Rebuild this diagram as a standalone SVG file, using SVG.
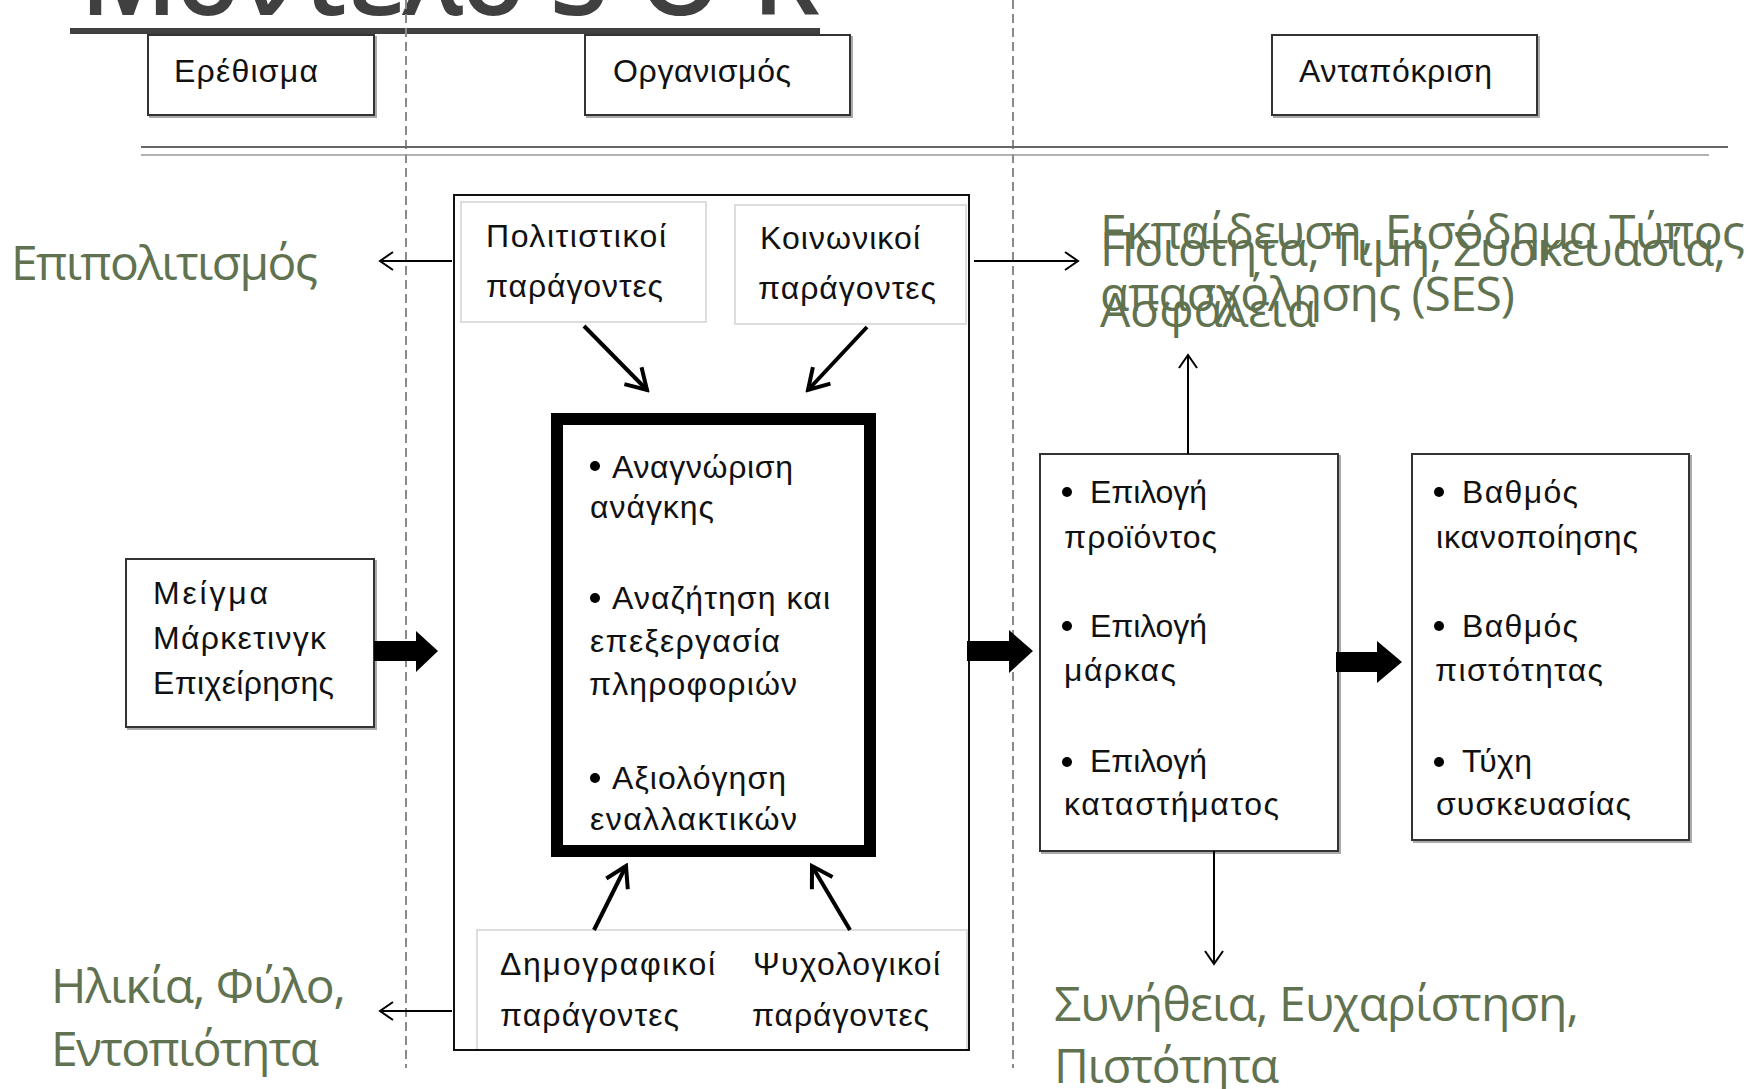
<svg xmlns="http://www.w3.org/2000/svg" width="1763" height="1089" viewBox="0 0 1763 1089">
<defs>
<style>
.t{font-family:"Liberation Sans",Arial,sans-serif;font-size:32px;fill:#111}
.g{font-family:"Open Sans","Noto Sans",sans-serif;font-size:48px;fill:#617250}
.box{fill:#fff;stroke:#333;stroke-width:2}
.shadow{fill:none;stroke:#aaa;stroke-width:2}
.lbox{fill:#fff;stroke:#ddd;stroke-width:2}
.dash{stroke:#8a8a8a;stroke-width:2;stroke-dasharray:9 5;fill:none}
.thin{stroke:#000;stroke-width:2;fill:none}
.thick{stroke:#000;stroke-width:4;fill:none}
</style>
<marker id="mo" markerUnits="userSpaceOnUse" markerWidth="16" markerHeight="20" viewBox="0 0 16 20" refX="14" refY="10" orient="auto">
<path d="M1,1 L14,10 L1,19" fill="none" stroke="#000" stroke-width="2"/>
</marker>
<marker id="mt" markerUnits="userSpaceOnUse" markerWidth="26" markerHeight="30" viewBox="0 0 26 30" refX="23" refY="15" orient="auto">
<path d="M3,3 L23,15 L3,27" fill="none" stroke="#000" stroke-width="4" stroke-linejoin="miter"/>
</marker>
</defs>
<rect width="1763" height="1089" fill="#fff"/>

<g id="title">
<text x="80" y="15" font-family="'Open Sans','Noto Sans',sans-serif" font-weight="600" font-size="106" fill="#404040" textLength="740">Μοντέλο S-O-R</text>
<rect x="70" y="28" width="750" height="6" fill="#404040"/>
</g>

<g id="guides">
<line class="dash" x1="406" y1="0" x2="406" y2="1068"/>
<line class="dash" x1="1013" y1="0" x2="1013" y2="1068"/>
<line x1="141" y1="147" x2="1728" y2="147" stroke="#666" stroke-width="2"/>
<line x1="141" y1="155" x2="1709" y2="155" stroke="#999" stroke-width="1.5"/>
</g>

<g id="hdr-stimulus">
<rect class="shadow" x="150" y="37" width="226" height="80"/>
<rect class="box" x="148" y="35" width="226" height="80"/>
<text class="t" x="174" y="82" textLength="144">Ερέθισμα</text>
</g>
<g id="hdr-organism">
<rect class="shadow" x="587" y="37" width="265" height="80"/>
<rect class="box" x="585" y="35" width="265" height="80"/>
<text class="t" x="613" y="82" textLength="178">Οργανισμός</text>
</g>
<g id="hdr-response">
<rect class="shadow" x="1274" y="37" width="265" height="80"/>
<rect class="box" x="1272" y="35" width="265" height="80"/>
<text class="t" x="1299" y="82" textLength="193">Ανταπόκριση</text>
</g>

<g id="organism">
<rect x="454" y="195" width="515" height="855" fill="#fff" stroke="#111" stroke-width="2"/>
</g>

<g id="cultural">
<rect class="lbox" x="461" y="202" width="245" height="120"/>
<text class="t" x="486" y="247" textLength="180">Πολιτιστικοί</text>
<text class="t" x="486" y="297" textLength="177">παράγοντες</text>
</g>
<g id="social">
<rect class="lbox" x="735" y="205" width="231" height="119"/>
<text class="t" x="760" y="249" textLength="160">Κοινωνικοί</text>
<text class="t" x="758" y="299" textLength="178">παράγοντες</text>
</g>

<g id="process">
<rect x="557" y="419" width="313" height="432" fill="#fff" stroke="#000" stroke-width="12"/>
<circle cx="595" cy="466" r="5" fill="#000"/>
<text class="t" x="612" y="478" textLength="181">Αναγνώριση</text>
<text class="t" x="590" y="518" textLength="124">ανάγκης</text>
<circle cx="595" cy="598" r="5" fill="#000"/>
<text class="t" x="612" y="609" textLength="218">Αναζήτηση και</text>
<text class="t" x="590" y="652" textLength="190">επεξεργασία</text>
<text class="t" x="589" y="695" textLength="208">πληροφοριών</text>
<circle cx="595" cy="778" r="5" fill="#000"/>
<text class="t" x="612" y="789" textLength="174">Αξιολόγηση</text>
<text class="t" x="590" y="830" textLength="207">εναλλακτικών</text>
</g>

<g id="demo-psycho">
<rect class="lbox" x="477" y="930" width="490" height="120"/>
<rect x="454" y="195" width="515" height="855" fill="none" stroke="#111" stroke-width="2"/>
<text class="t" x="500" y="975" textLength="215">Δημογραφικοί</text>
<text class="t" x="500" y="1026" textLength="179">παράγοντες</text>
<text class="t" x="753" y="975" textLength="187">Ψυχολογικοί</text>
<text class="t" x="752" y="1026" textLength="177">παράγοντες</text>
</g>

<g id="marketing-mix">
<rect class="shadow" x="128" y="561" width="248" height="168"/>
<rect class="box" x="126" y="559" width="248" height="168"/>
<text class="t" x="153" y="604" textLength="115">Μείγμα</text>
<text class="t" x="153" y="649" textLength="173">Μάρκετινγκ</text>
<text class="t" x="153" y="694" textLength="181">Επιχείρησης</text>
</g>

<g id="choices">
<rect class="shadow" x="1042" y="456" width="298" height="397"/>
<rect class="box" x="1040" y="454" width="298" height="397"/>
<circle cx="1067" cy="492" r="5" fill="#000"/>
<text class="t" x="1090" y="503" textLength="117">Επιλογή</text>
<text class="t" x="1064" y="548" textLength="153">προϊόντος</text>
<circle cx="1067" cy="626" r="5" fill="#000"/>
<text class="t" x="1090" y="637" textLength="117">Επιλογή</text>
<text class="t" x="1064" y="681" textLength="112">μάρκας</text>
<circle cx="1067" cy="762" r="5" fill="#000"/>
<text class="t" x="1090" y="772" textLength="117">Επιλογή</text>
<text class="t" x="1064" y="815" textLength="215">καταστήματος</text>
</g>

<g id="outcomes">
<rect class="shadow" x="1414" y="456" width="277" height="386"/>
<rect class="box" x="1412" y="454" width="277" height="386"/>
<circle cx="1439" cy="492" r="5" fill="#000"/>
<text class="t" x="1462" y="503" textLength="116">Βαθμός</text>
<text class="t" x="1436" y="548" textLength="202">ικανοποίησης</text>
<circle cx="1439" cy="626" r="5" fill="#000"/>
<text class="t" x="1462" y="637" textLength="116">Βαθμός</text>
<text class="t" x="1435" y="681" textLength="168">πιστότητας</text>
<circle cx="1439" cy="762" r="5" fill="#000"/>
<text class="t" x="1462" y="772" textLength="70">Τύχη</text>
<text class="t" x="1436" y="815" textLength="195">συσκευασίας</text>
</g>

<g id="notes">
<text class="g" x="11" y="280" textLength="307">Επιπολιτισμός</text>
<text class="g" x="1100" y="249" textLength="645">Εκπαίδευση, Εισόδημα Τύπος</text>
<text class="g" x="1100" y="311" textLength="415">απασχόλησης (SES)</text>
<text class="g" x="1100" y="266" textLength="626">Ποιότητα, Τιμή, Συσκευασία,</text>
<text class="g" x="1100" y="327" textLength="216">Ασφάλεια</text>
<text class="g" x="51" y="1003" textLength="295">Ηλικία, Φύλο,</text>
<text class="g" x="51" y="1066" textLength="268">Εντοπιότητα</text>
<text class="g" x="1054" y="1021" textLength="525">Συνήθεια, Ευχαρίστηση,</text>
<text class="g" x="1054" y="1083" textLength="225">Πιστότητα</text>
</g>

<g id="connectors">
<line class="thick" x1="584" y1="326" x2="647" y2="390" marker-end="url(#mt)"/>
<line class="thick" x1="867" y1="327" x2="808" y2="390" marker-end="url(#mt)"/>
<line class="thick" x1="594" y1="930" x2="626" y2="866" marker-end="url(#mt)"/>
<line class="thick" x1="850" y1="930" x2="812" y2="866" marker-end="url(#mt)"/>
<line class="thin" x1="452" y1="261" x2="380" y2="261" marker-end="url(#mo)"/>
<line class="thin" x1="974" y1="261" x2="1078" y2="261" marker-end="url(#mo)"/>
<line class="thin" x1="1188" y1="454" x2="1188" y2="355" marker-end="url(#mo)"/>
<line class="thin" x1="1214" y1="851" x2="1214" y2="964" marker-end="url(#mo)"/>
<line class="thin" x1="452" y1="1011" x2="380" y2="1011" marker-end="url(#mo)"/>
<polygon points="374,641 416,641 416,631 438,651 416,672 416,661 374,661" fill="#000"/>
<polygon points="967,641 1009,641 1009,630 1033,651 1009,673 1009,661 967,661" fill="#000"/>
<polygon points="1336,652 1377,652 1377,641 1402,662 1377,683 1377,672 1336,672" fill="#000"/>
</g>
</svg>
